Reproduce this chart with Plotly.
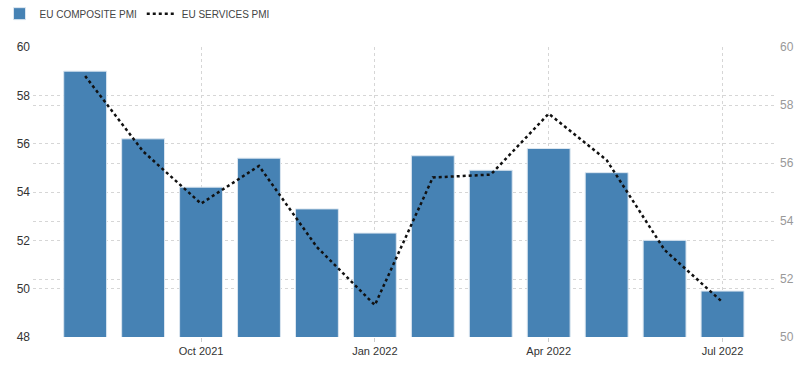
import plotly.graph_objects as go

months = ["Aug 2021", "Sep 2021", "Oct 2021", "Nov 2021", "Dec 2021", "Jan 2022",
          "Feb 2022", "Mar 2022", "Apr 2022", "May 2022", "Jun 2022", "Jul 2022"]
composite_pmi = [59.0, 56.2, 54.2, 55.4, 53.3, 52.3, 55.5, 54.9, 55.8, 54.8, 52.0, 49.9]
services_pmi = [59.0, 56.4, 54.6, 55.9, 53.1, 51.1, 55.5, 55.6, 57.7, 56.1, 53.0, 51.2]
tick_months = ["Oct 2021", "Jan 2022", "Apr 2022", "Jul 2022"]

font_family = "Liberation Sans, Arial, sans-serif"

fig = go.Figure()
fig.add_trace(go.Bar(
    x=months, y=composite_pmi, name="EU COMPOSITE PMI",
    marker=dict(color="#4682b4", line=dict(color="#dbe6f0", width=1)),
    width=0.74, yaxis="y",
))
fig.add_trace(go.Scatter(
    x=months, y=services_pmi, name="EU SERVICES PMI", mode="lines",
    line=dict(color="#111111", width=2.5, dash="dot"),
    yaxis="y2",
))

grid = dict(showgrid=True, gridcolor="#d6d6d6", griddash="dot", gridwidth=1)

fig.update_layout(
    width=800, height=367,
    margin=dict(l=33, r=23, t=47, b=30, autoexpand=False),
    paper_bgcolor="white", plot_bgcolor="white",
    font=dict(family=font_family, size=11, color="#333333"),
    showlegend=True,
    legend=dict(orientation="h", x=-0.045, xanchor="left", y=1.165, yanchor="top",
                font=dict(size=10, color="#444444"), itemwidth=30,
                bgcolor="rgba(0,0,0,0)", traceorder="normal"),
    xaxis=dict(
        type="category", categoryorder="array", categoryarray=months,
        range=[-0.9, 11.94], automargin=False,
        tickmode="array", tickvals=tick_months, ticktext=tick_months,
        ticks="outside", ticklen=4, tickcolor="#cccccc",
        showline=False, zeroline=False,
        tickfont=dict(size=11, color="#333333"),
        **grid,
    ),
    yaxis=dict(
        range=[48, 60], dtick=2, tick0=48, side="left", automargin=False,
        zeroline=False, showline=False,
        tickfont=dict(size=12, color="#333333"),
        ticks="", ticklabelstandoff=2,
        **grid,
    ),
    yaxis2=dict(
        range=[50, 60], dtick=2, tick0=50, side="right", overlaying="y", automargin=False,
        zeroline=False, showline=False,
        tickfont=dict(size=12, color="#999999"),
        ticks="", ticklabelstandoff=2,
        **grid,
    ),
)

fig.write_html(
    "out.html",
    config={"displayModeBar": False},
    post_script="document.body.style.margin='0';document.body.style.overflow='hidden';",
)
